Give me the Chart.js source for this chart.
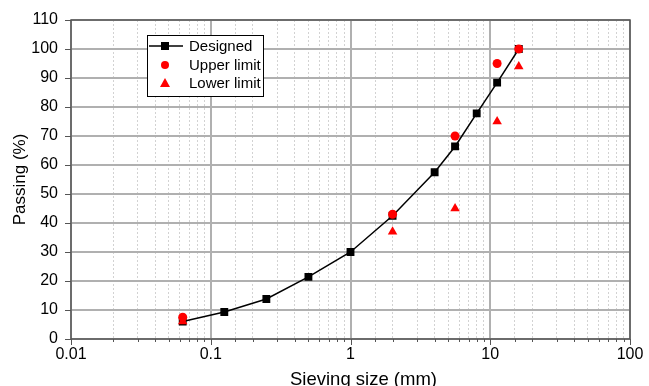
<!DOCTYPE html>
<html>
<head>
<meta charset="utf-8">
<script src="https://cdn.jsdelivr.net/npm/chart.js@4/dist/chart.umd.min.js"></script>
<style>
html,body{margin:0;padding:0;background:#fff;overflow:hidden;}
#wrap{width:649px;height:386px;position:relative;}
</style>
</head>
<body>
<div id="wrap"><canvas id="c" width="649" height="386"></canvas></div>
<script>
// ---- data ----
const sieveSizes = [0.063, 0.125, 0.25, 0.5, 1, 2, 4, 5.6, 8, 11.2, 16];
const designed   = [6, 9.3, 13.8, 21.4, 30, 42.5, 57.5, 66.4, 77.8, 88.4, 100];
const limitSizes = [0.063, 2, 5.6, 11.2, 16];
const upperLimit = [7.5, 43, 70, 95, 100];
const lowerLimit = [6, 37, 45, 75, 94];
const xTickLabels = [0.01, 0.1, 1, 10, 100];
const yTickLabels = [0, 10, 20, 30, 40, 50, 60, 70, 80, 90, 100, 110];
const xTitle = 'Sieving size (mm)';
const yTitle = 'Passing (%)';

const FONT = "'Liberation Sans', Arial, sans-serif";
const pts = (xs, ys) => xs.map((x, i) => ({x: x, y: ys[i]}));
const isDecade = v => Math.abs(Math.log10(v) - Math.round(Math.log10(v))) < 1e-9;

const frame = {
  id: 'frame',
  afterDraw(chart) {
    const {ctx, chartArea: a, scales} = chart;
    const xs = scales.x, ys = scales.y;
    ctx.save();
    ctx.strokeStyle = '#555';
    ctx.lineWidth = 1.5;
    ctx.strokeRect(a.left, a.top, a.right - a.left, a.bottom - a.top);
    ctx.lineWidth = 1;
    xs.ticks.forEach(t => {
      const p = Math.round(xs.getPixelForValue(t.value)) + 0.5;
      const len = isDecade(t.value) ? 6 : 3;
      ctx.beginPath(); ctx.moveTo(p, a.bottom); ctx.lineTo(p, a.bottom + len); ctx.stroke();
    });
    ys.ticks.forEach(t => {
      const p = Math.round(ys.getPixelForValue(t.value)) + 0.5;
      const len = (t.value % 10 === 0) ? 6 : 3;
      ctx.beginPath(); ctx.moveTo(a.left - len, p); ctx.lineTo(a.left, p); ctx.stroke();
    });
    // x axis title
    ctx.fillStyle = '#000';
    ctx.font = '18.5px ' + FONT;
    ctx.textAlign = 'center';
    ctx.textBaseline = 'alphabetic';
    ctx.fillText(xTitle, (a.left + a.right) / 2 + 13, 385);
    // legend
    const lx = 147, ly = 35, lw = 116, lh = 61;
    ctx.fillStyle = '#fff';
    ctx.fillRect(lx, ly, lw, lh);
    ctx.strokeStyle = '#000';
    ctx.lineWidth = 1;
    ctx.strokeRect(lx + 0.5, ly + 0.5, lw, lh);
    const rows = [46, 65, 83];
    const mx = 165;
    ctx.strokeStyle = '#000'; ctx.lineWidth = 1.5;
    ctx.beginPath(); ctx.moveTo(149, rows[0]); ctx.lineTo(183, rows[0]); ctx.stroke();
    ctx.fillStyle = '#000';
    ctx.fillRect(mx - 4, rows[0] - 4, 8, 8);
    ctx.fillStyle = '#ff0000';
    ctx.beginPath(); ctx.arc(mx, rows[1], 4, 0, Math.PI * 2); ctx.fill();
    ctx.beginPath(); ctx.moveTo(mx, rows[2] - 5); ctx.lineTo(mx + 5, rows[2] + 4); ctx.lineTo(mx - 5, rows[2] + 4); ctx.closePath(); ctx.fill();
    ctx.fillStyle = '#000';
    ctx.font = '15px ' + FONT;
    ctx.textBaseline = 'middle';
    ctx.textAlign = 'left';
    const names = chart.data.datasets.map(d => d.label);
    names.forEach((n, i) => ctx.fillText(n, 189, rows[i] + 1));
    ctx.restore();
  }
};

new Chart(document.getElementById('c'), {
  type: 'scatter',
  data: {
    datasets: [
      {label: 'Designed', data: pts(sieveSizes, designed), showLine: true,
       borderColor: '#000', borderWidth: 1.5, backgroundColor: '#000',
       pointStyle: 'rect', pointRadius: 4.5, pointHoverRadius: 4.5, order: 3},
      {label: 'Upper limit', data: pts(limitSizes, upperLimit),
       borderColor: '#ff0000', backgroundColor: '#ff0000', borderWidth: 0,
       pointStyle: 'circle', pointRadius: 4.5, order: 1},
      {label: 'Lower limit', data: pts(limitSizes, lowerLimit),
       borderColor: '#ff0000', backgroundColor: '#ff0000', borderWidth: 0,
       pointStyle: 'triangle', pointRadius: 5.5, order: 2}
    ]
  },
  options: {
    responsive: false,
    animation: false,
    layout: {padding: {left: 0, top: 20, right: 19, bottom: 0}},
    plugins: {legend: {display: false}, tooltip: {enabled: false}},
    scales: {
      x: {
        type: 'logarithmic', min: 0.01, max: 100,
        afterFit: s => { s.height = 47; s.paddingLeft = 0; s.paddingRight = 0; },
        grid: {
          drawTicks: false,
          color: c => (c.tick && isDecade(c.tick.value)) ? '#b0b0b0' : '#d2d2d2',
          lineWidth: c => (c.tick && isDecade(c.tick.value)) ? 2 : 1
        },
        border: {display: false, dash: c => (c.tick && !isDecade(c.tick.value)) ? [2, 2] : []},
        ticks: {
          autoSkip: false, maxRotation: 0, padding: 6, color: '#000',
          font: {family: FONT, size: 16},
          callback: function(v) { return xTickLabels.some(t => Math.abs(t - v) < 1e-12) ? String(v) : ''; }
        },
        title: {display: false}
      },
      y: {
        min: 0, max: 110,
        afterFit: s => { s.width = 71; s.paddingTop = 0; s.paddingBottom = 0; },
        grid: {
          drawTicks: false,
          color: c => (c.tick && c.tick.value % 10 === 0) ? '#b0b0b0' : '#d2d2d2',
          lineWidth: c => (c.tick && c.tick.value % 10 === 0) ? 2 : 1
        },
        border: {display: false, dash: c => (c.tick && c.tick.value % 10 !== 0) ? [2, 2] : []},
        ticks: {
          stepSize: 5, padding: 13, color: '#000',
          font: {family: FONT, size: 16},
          callback: v => yTickLabels.includes(v) ? String(v) : ''
        },
        title: {display: true, text: yTitle, color: '#000',
                font: {family: FONT, size: 17}, padding: {top: 10, bottom: 0}}
      }
    }
  },
  plugins: [frame]
});
</script>
</body>
</html>
